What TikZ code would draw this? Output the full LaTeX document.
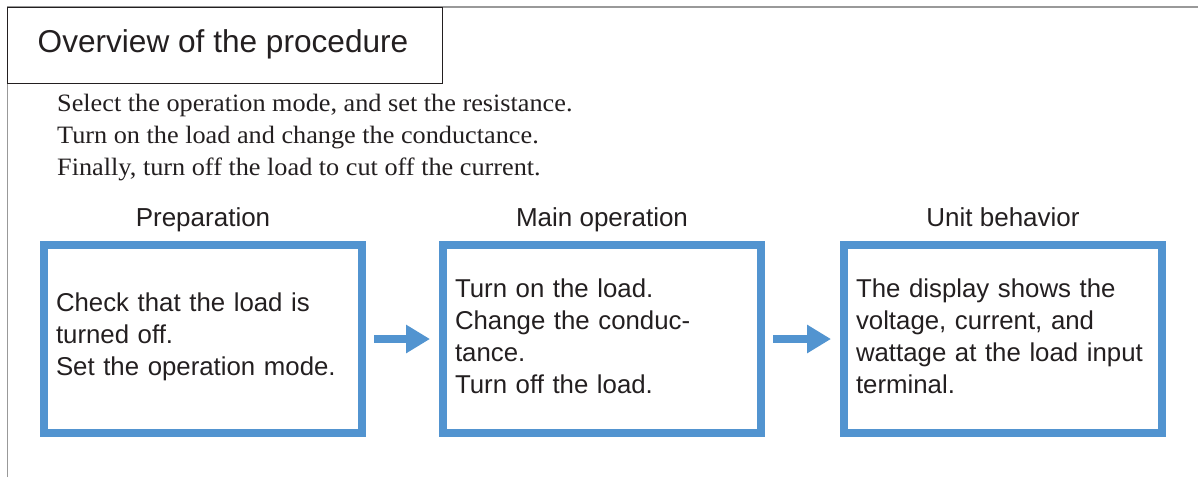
\documentclass[tikz,border=0pt]{standalone}
\usepackage{fontspec}
\setmainfont{Liberation Serif}
\setsansfont{Liberation Sans}
\newfontfamily\notefont[FakeStretch=1.05]{Liberation Serif}
\usetikzlibrary{arrows.meta, positioning}
\definecolor{stepblue}{RGB}{82,148,208}
\definecolor{inkgray}{RGB}{35,31,32}

\begin{document}
\begin{tikzpicture}[
    x=1pt, y=-1pt,
    stepbox/.style={rectangle, draw=stepblue, line width=8pt, minimum width=318pt, minimum height=188pt,
      text width=294pt, inner sep=12pt, align=left, text=inkgray,
      font=\sffamily\fontsize{25.8}{32}\selectfont,
      execute at end node={\endgraf\vspace{5pt}}},
    heading/.style={anchor=base, inner sep=0pt, font=\sffamily\fontsize{26}{30}\selectfont, text=inkgray},
    note/.style={anchor=base west, inner sep=0pt, font=\notefont\fontsize{25}{30}\selectfont, text=inkgray},
    flow/.style={-{Triangle[length=24pt, width=27pt]}, line width=8pt, draw=stepblue,
      shorten <=8pt, shorten >=9pt},
    node distance=73pt
  ]
    \useasboundingbox (0,0) rectangle (1198,477);

    % Frame
    \draw[gray!80, line width=1.2pt] (7.5,477) -- (7.5,7) -- (1198,7);
    \node[draw=inkgray, line width=1pt, minimum width=434.5pt, minimum height=76pt, anchor=north west,
      inner sep=0pt, outer sep=0pt] (title) at (7.5,7) {};
    \node[anchor=base west, inner sep=0pt, text=inkgray, font=\sffamily\fontsize{31.6}{36}\selectfont]
      (titletext) at (37.5,52) {Overview of the procedure};

    % Summary
    \node[note] (line1) at (57,111.5) {Select the operation mode, and set the resistance.};
    \node[note] (line2) at (57,143.5) {Turn on the load and change the conductance.};
    \node[note] (line3) at (57,175.5) {Finally, turn off the load to cut off the current.};

    % Steps
    \node[stepbox] (prep) at (203,339)
      {Check that the load is\\turned off.\\Set the operation mode.};
    \node[stepbox, right=of prep] (main)
      {Turn on the load.\\Change the conduc-\\tance.\\Turn off the load.};
    \node[stepbox, right=75pt of main] (unit)
      {The display shows the\\voltage, current, and\\wattage at the load input\\terminal.};

    % Headings
    \node[heading] (prephead) at ([yshift=14.5pt]prep.north) {Preparation};
    \node[heading] (mainhead) at ([yshift=14.5pt]main.north) {Main operation};
    \node[heading] (unithead) at ([yshift=14.5pt]unit.north) {Unit behavior};

    % Arrows
    \draw[flow] (prep) -- (main);
    \draw[flow] (main) -- (unit);
\end{tikzpicture}
\end{document}
